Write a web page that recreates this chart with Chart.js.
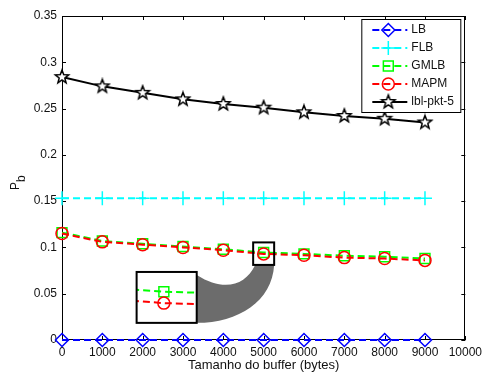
<!DOCTYPE html>
<html>
<head>
<meta charset="utf-8">
<script src="https://cdn.jsdelivr.net/npm/chart.js@4/dist/chart.umd.min.js"></script>
<style>
html, body { margin: 0; padding: 0; background: #fff; }
canvas { display: block; }
</style>
</head>
<body>
<canvas id="chart" width="487" height="374"></canvas>
<script>
// values
const bufferSizes = [0, 1000, 2000, 3000, 4000, 5000, 6000, 7000, 8000, 9000]
const lb = [0, 0, 0, 0, 0, 0, 0, 0, 0, 0]
const flb = [0.153, 0.153, 0.153, 0.153, 0.153, 0.153, 0.153, 0.153, 0.153, 0.153]
const gmlb = [0.116, 0.107, 0.104, 0.101, 0.098, 0.0945, 0.093, 0.091, 0.090, 0.088]
const mapm = [0.115, 0.106, 0.103, 0.100, 0.097, 0.093, 0.0915, 0.089, 0.088, 0.086]
const lblPkt5 = [0.284, 0.274, 0.267, 0.260, 0.255, 0.251, 0.246, 0.242, 0.239, 0.235]

const xTicks = [0, 1000, 2000, 3000, 4000, 5000, 6000, 7000, 8000, 9000, 10000]
const yTicks = [0, 0.05, 0.1, 0.15, 0.2, 0.25, 0.3, 0.35]

// magnifier: which point is zoomed, where the big box sits, what window it shows
const zoomIndex = 5
const insetBox = { x0: 1850, x1: 3340, y0: 0.0185, y1: 0.0735 }
const insetView = { x0: 4932, x1: 5082, y0: 0.0904, y1: 0.0971 }

const FONT = "'Liberation Sans', Arial, sans-serif"
const DASH = [7, 4]

function starImage(r, color) {
    const c = document.createElement('canvas')
    const s = Math.ceil(r * 2 + 4)
    c.width = s; c.height = s
    const g = c.getContext('2d')
    g.strokeStyle = color
    g.fillStyle = '#fff'
    g.lineWidth = 1.5
    g.beginPath()
    for (let i = 0; i < 10; i++) {
        const rad = i % 2 ? r * 0.42 : r
        const ang = -Math.PI / 2 + i * Math.PI / 5
        const px = s / 2 + rad * Math.cos(ang)
        const py = s / 2 + rad * Math.sin(ang)
        if (i) g.lineTo(px, py); else g.moveTo(px, py)
    }
    g.closePath()
    g.fill()
    g.stroke()
    return c
}

function series(label, values, color, style, radius, dashed, order) {
    return {
        label: label,
        data: values.map((v, i) => ({ x: bufferSizes[i], y: v })),
        borderColor: color,
        backgroundColor: 'transparent',
        borderWidth: 2,
        borderDash: dashed ? DASH : [],
        pointStyle: style,
        pointRadius: radius,
        pointBorderWidth: 1.5,
        pointBorderColor: color,
        pointBackgroundColor: 'transparent',
        tension: 0,
        clip: false,
        order: order
    }
}

const datasets = [
    series('LB', lb, '#0000ff', 'rectRot', 6.5, true, 5),
    series('FLB', flb, '#00ffff', 'cross', 7, true, 4),
    series('GMLB', gmlb, '#00ff00', 'rect', 7, true, 3),
    series('MAPM', mapm, '#ff0000', 'circle', 6, true, 2),
    series('lbl-pkt-5', lblPkt5, '#000000', starImage(7, '#000'), 7, false, 1)
]

function marker(ctx, ds, x, y) {
    ctx.save()
    ctx.strokeStyle = ds.borderColor
    ctx.fillStyle = 'rgba(0,0,0,0)'
    ctx.lineWidth = ds.pointBorderWidth
    ctx.setLineDash([])
    Chart.helpers.drawPoint(ctx, { pointStyle: ds.pointStyle, radius: ds.pointRadius, borderWidth: ds.pointBorderWidth, rotation: 0 }, x, y)
    ctx.restore()
}

// matlab style frame, inward ticks, y title with subscript
const framePlugin = {
    id: 'frame',
    beforeDatasetsDraw(chart) {
        const { ctx, chartArea: a, scales } = chart
        ctx.save()
        ctx.strokeStyle = '#000'
        ctx.lineWidth = 1
        ctx.beginPath()
        scales.x.ticks.forEach(t => {
            const px = Math.round(scales.x.getPixelForValue(t.value)) + 0.5
            ctx.moveTo(px, a.bottom); ctx.lineTo(px, a.bottom - 4)
            ctx.moveTo(px, a.top); ctx.lineTo(px, a.top + 4)
        })
        scales.y.ticks.forEach(t => {
            const py = Math.round(scales.y.getPixelForValue(t.value)) + 0.5
            ctx.moveTo(a.left, py); ctx.lineTo(a.left + 4, py)
            ctx.moveTo(a.right, py); ctx.lineTo(a.right - 4, py)
        })
        ctx.stroke()
        ctx.strokeRect(Math.round(a.left) + 0.5, Math.round(a.top) + 0.5, Math.round(a.width) - 1, Math.round(a.height) - 1)

        ctx.fillStyle = '#111'
        ctx.font = '12px ' + FONT
        ctx.translate(19, 190)
        ctx.rotate(-Math.PI / 2)
        ctx.textBaseline = 'alphabetic'
        ctx.fillText('P', 0, 0)
        ctx.fillText('b', ctx.measureText('P').width, 6)
        ctx.restore()
    },
    afterDraw(chart) {
        const { ctx, chartArea: a, scales } = chart
        const xs = scales.x, ys = scales.y

        // magnifier
        const L = xs.getPixelForValue(insetBox.x0), R = xs.getPixelForValue(insetBox.x1)
        const T = ys.getPixelForValue(insetBox.y1), B = ys.getPixelForValue(insetBox.y0)
        const cx = xs.getPixelForValue(bufferSizes[zoomIndex])
        const cy = ys.getPixelForValue(mapm[zoomIndex])
        const sl = cx - 10.5, sr = cx + 10.5, st = cy - 11.5, sb = cy + 11

        ctx.save()
        ctx.fillStyle = '#6c6c6c'
        ctx.beginPath()
        ctx.moveTo(R, T + 3)
        ctx.bezierCurveTo(R + 27, T + 20, sl - 8, sb + 21, sl + 2, sb)
        ctx.lineTo(sr, sb)
        ctx.bezierCurveTo(sr - 2, sb + 36, R + 42, B, R, B)
        ctx.closePath()
        ctx.fill()

        ctx.fillStyle = '#fff'
        ctx.fillRect(L, T, R - L, B - T)
        ctx.beginPath()
        ctx.rect(L, T, R - L, B - T)
        ctx.clip()
        const px = v => L + (v - insetView.x0) / (insetView.x1 - insetView.x0) * (R - L)
        const py = v => T + (insetView.y1 - v) / (insetView.y1 - insetView.y0) * (B - T)
        const drawn = [datasets[2], datasets[3]]
        drawn.forEach(ds => {
            ctx.strokeStyle = ds.borderColor
            ctx.lineWidth = ds.borderWidth
            ctx.setLineDash(ds.borderDash)
            ctx.beginPath()
            ds.data.forEach((p, i) => {
                if (i) ctx.lineTo(px(p.x), py(p.y)); else ctx.moveTo(px(p.x), py(p.y))
            })
            ctx.stroke()
            const p = ds.data[zoomIndex]
            marker(ctx, ds, px(p.x), py(p.y))
        })
        ctx.restore()

        ctx.save()
        ctx.strokeStyle = '#000'
        ctx.lineWidth = 2
        ctx.strokeRect(L, T, R - L, B - T)
        ctx.strokeRect(sl, st, sr - sl, sb - st)
        ctx.restore()

        // legend box
        const lx = a.right - 104, ly = a.top + 3, lw = 99, lh = 93
        ctx.save()
        ctx.fillStyle = '#fff'
        ctx.fillRect(lx, ly, lw, lh)
        ctx.strokeStyle = '#000'
        ctx.lineWidth = 1
        ctx.strokeRect(lx + 0.5, ly + 0.5, lw, lh)
        ctx.font = '12px ' + FONT
        ctx.textBaseline = 'middle'
        datasets.forEach((ds, i) => {
            const yy = ly + 11 + i * 18
            ctx.strokeStyle = ds.borderColor
            ctx.lineWidth = ds.borderWidth
            ctx.setLineDash(ds.borderDash)
            ctx.beginPath()
            ctx.moveTo(lx + 11, yy)
            ctx.lineTo(lx + 46, yy)
            ctx.stroke()
            marker(ctx, ds, lx + 27, yy)
            ctx.fillStyle = '#111'
            ctx.fillText(ds.label, lx + 50, yy)
        })
        ctx.restore()
    }
}

const config = {
    type: 'line',
    data: { datasets: datasets },
    options: {
        responsive: false,
        devicePixelRatio: 1,
        animation: false,
        layout: { autoPadding: false, padding: { left: 0, right: 16, top: 16, bottom: 0 } },
        plugins: {
            legend: { display: false },
            tooltip: { enabled: false }
        },
        scales: {
            x: {
                type: 'linear',
                min: 0,
                max: 10000,
                afterBuildTicks: s => { s.ticks = xTicks.map(v => ({ value: v })) },
                afterFit: s => { s.height = 34 },
                grid: { display: false, drawTicks: false },
                border: { display: false },
                ticks: { padding: 5, color: '#111', font: { family: FONT, size: 12 }, maxRotation: 0, autoSkip: false, callback: v => String(v) },
                title: { display: true, text: 'Tamanho do buffer (bytes)', color: '#111', font: { family: FONT, size: 13 }, padding: { top: 0, bottom: 1 } }
            },
            y: {
                min: 0,
                max: 0.35,
                afterBuildTicks: s => { s.ticks = yTicks.map(v => ({ value: v })) },
                afterFit: s => { s.width = 62 },
                grid: { display: false, drawTicks: false },
                border: { display: false },
                ticks: { padding: 5, color: '#111', font: { family: FONT, size: 12 }, callback: v => String(+v.toFixed(2)) }
            }
        }
    },
    plugins: [framePlugin]
}

new Chart(document.getElementById('chart'), config)
</script>
</body>
</html>
